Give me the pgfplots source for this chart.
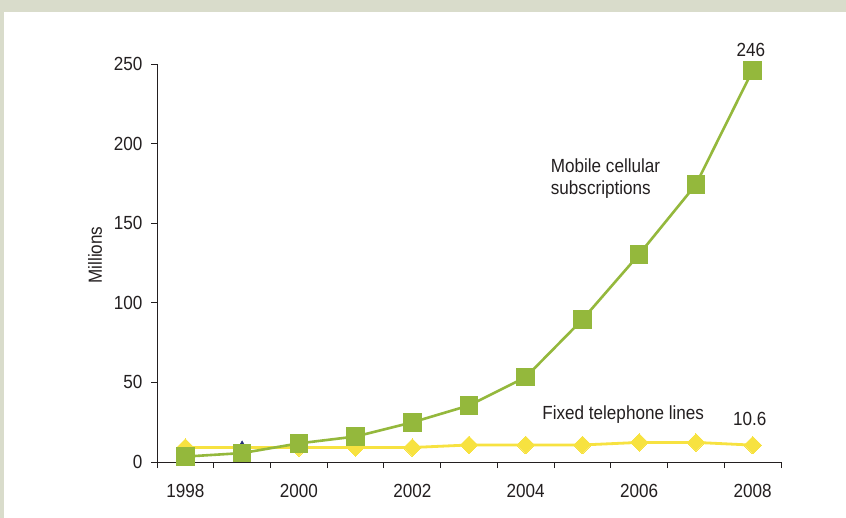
\documentclass[border=0pt]{standalone}
\usepackage{fontspec}
\setmainfont{Liberation Sans}[FakeStretch=0.9]
\usepackage{pgfplots}
\pgfplotsset{compat=1.18}
\definecolor{framec}{RGB}{217,220,203}
\definecolor{mgreen}{RGB}{148,184,60}
\definecolor{fyellow}{RGB}{247,226,64}
\definecolor{tgray}{RGB}{35,31,32}
\definecolor{navyc}{RGB}{35,45,120}
\begin{document}
\begin{tikzpicture}[font=\fontsize{19bp}{22bp}\selectfont]
\useasboundingbox (0,0) rectangle (846bp,518bp);
\fill[white] (0,0) rectangle (846bp,518bp);
\fill[framec] (0,506bp) rectangle (846bp,518bp);
\fill[framec] (0,0) rectangle (4bp,518bp);
\begin{axis}[
  at={(157bp,56bp)}, anchor=south west,
  scale only axis, width=624bp, height=398bp,
  xmin=1997.5, xmax=2008.5, ymin=0, ymax=250,
  axis x line=bottom, axis y line=left,
  axis line style={tgray, line width=0.9bp, -},
  tick align=outside,
  xtick={1998,2000,2002,2004,2006,2008},
  xticklabels={1998,2000,2002,2004,2006,2008},
  minor xtick={1997.5,1998.5,...,2008.5},
  major x tick style={draw=none},
  minor x tick style={tgray, line width=0.9bp},
  minor tick length=6bp,
  ytick={0,50,...,250},
  y tick style={tgray, line width=0.9bp},
  major tick length=6bp,
  /pgf/number format/assume math mode=true,
  tick label style={font=\fontsize{19bp}{22bp}\selectfont, text=tgray},
  xticklabel style={yshift=-13bp},
  yticklabel style={xshift=-5bp},
  clip=false,
]
\addplot[only marks, mark=triangle*, mark size=6bp, color=navyc] coordinates {(1999,9.5)};
\addplot[fyellow, line width=2.8bp, mark=square*, mark size=6.2bp, mark indices={1,3,4,5,6,7,8,9,10,11}, mark options={rotate=45, fill=fyellow, draw=fyellow, line width=0pt}] coordinates {
(1998,9.1) (1999,9.1) (2000,9.1) (2001,9.1) (2002,9.1) (2003,10.7) (2004,10.7) (2005,10.7) (2006,12.3) (2007,12.3) (2008,10.6)};
\addplot[mgreen, line width=2.6bp, mark=square*, mark size=8.8bp, mark options={fill=mgreen, draw=mgreen, line width=0pt}] coordinates {
(1998,3.4) (1999,5.6) (2000,11.7) (2001,16.0) (2002,24.9) (2003,35.5) (2004,53.3) (2005,89.5) (2006,130.5) (2007,174.3) (2008,246)};
\node[anchor=base west, text=tgray, inner sep=0pt] at (axis cs:2004.44,182.0) {Mobile cellular};
\node[anchor=base west, text=tgray, inner sep=0pt] at (axis cs:2004.44,168.2) {subscriptions};
\node[anchor=base west, text=tgray, inner sep=0pt] at (axis cs:2004.29,27.0) {Fixed telephone lines};
\node[anchor=base, text=tgray, inner sep=0pt] at (axis cs:2007.95,23.2) {10.6};
\node[anchor=base, text=tgray, inner sep=0pt] at (axis cs:2007.97,254.6) {246};
\node[rotate=90, text=tgray, inner sep=0pt] at (rel axis cs:-0.0994,0.52) {Millions};
\end{axis}
\end{tikzpicture}
\end{document}
